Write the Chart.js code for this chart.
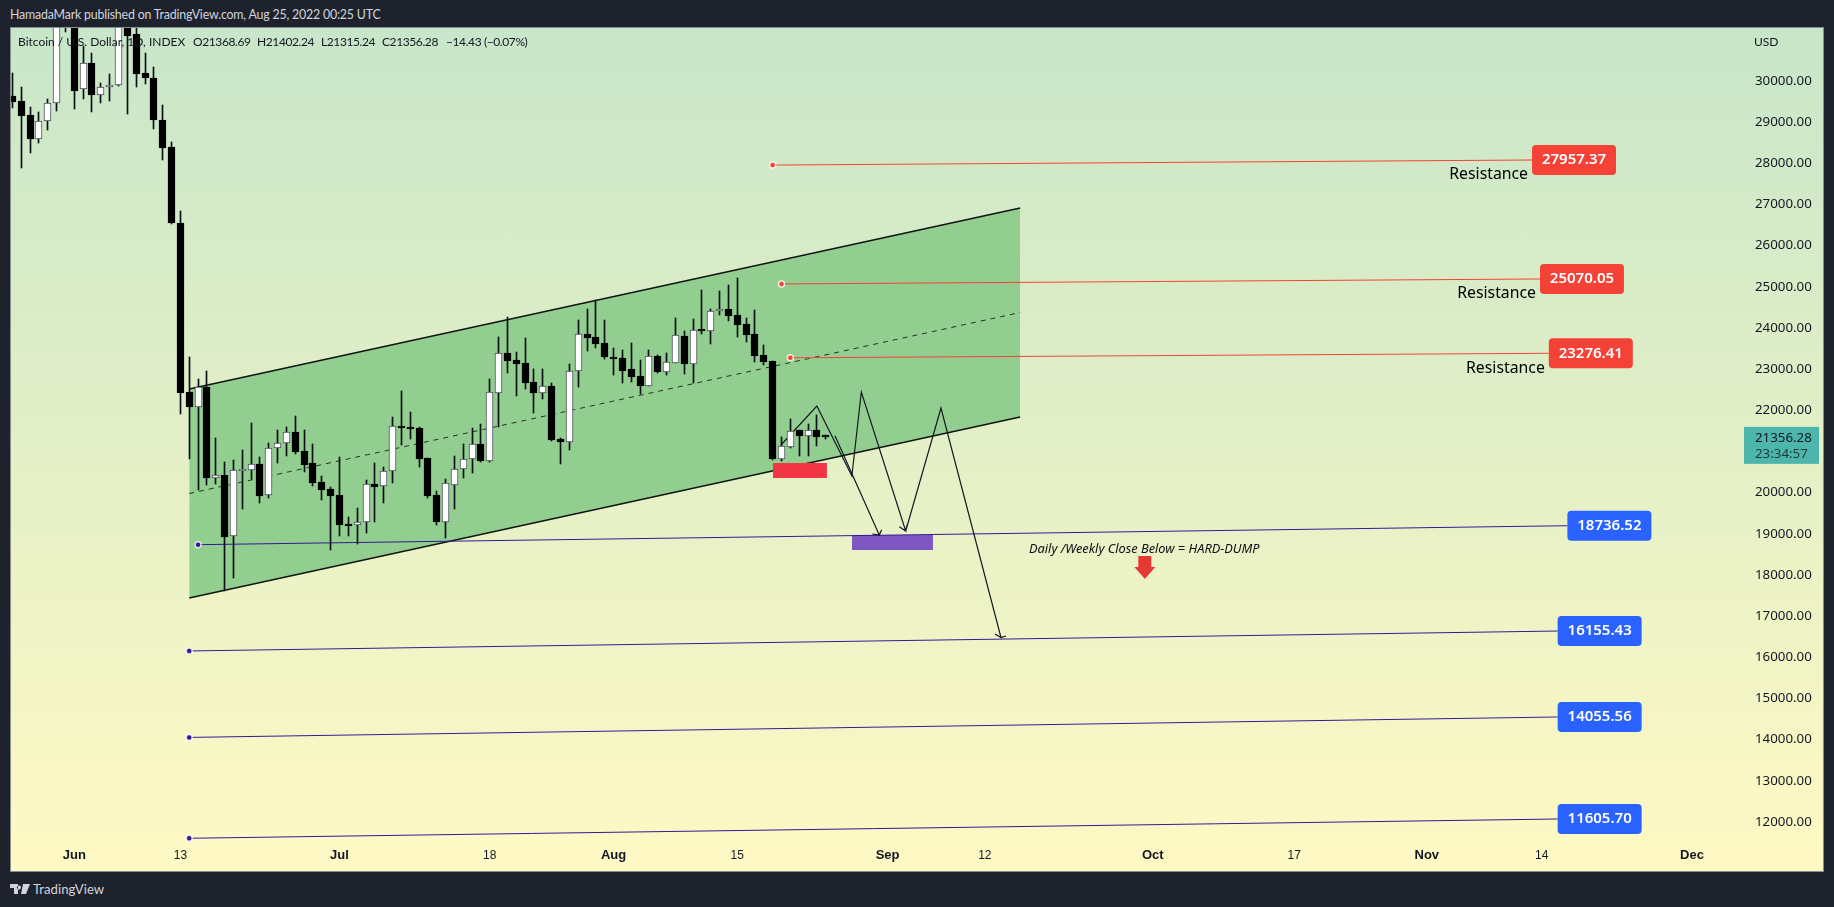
<!DOCTYPE html>
<html>
<head>
<meta charset="utf-8">
<title>BTCUSD</title>
<script src="https://cdn.jsdelivr.net/npm/chart.js@4"></script>
<style>
html, body { margin:0; padding:0; width:1834px; height:907px; overflow:hidden; background:#1e222d; font-family:Lato,sans-serif; }
#frame { position:absolute; left:10px; top:27px; width:1812px; height:843px; border:1px solid #8a8d8c; background:linear-gradient(to bottom,#c8e6c9,#fff9c4); }
#tvChart { position:absolute; left:0; top:0; }
.t { position:absolute; white-space:pre; line-height:16px; }
.head { color:#d1d4dc; font-size:12.4px; letter-spacing:-0.2px; }
.legend { color:#131722; font-size:12px; }
.num { letter-spacing:-0.4px; }
</style>
</head>
<body>
<div class="t head" style="left:10px;top:7px">HamadaMark published on TradingView.com, Aug 25, 2022 00:25 UTC</div>
<div id="frame"><canvas id="tvChart" width="1812" height="843"></canvas></div>
<div class="t legend" style="left:18px;top:34px">Bitcoin / U.S. Dollar, 1D, INDEX</div>
<div class="t legend num" style="left:193px;top:34px">O21368.69</div>
<div class="t legend num" style="left:257px;top:34px">H21402.24</div>
<div class="t legend num" style="left:321px;top:34px">L21315.24</div>
<div class="t legend num" style="left:382px;top:34px">C21356.28</div>
<div class="t legend num" style="left:446px;top:34px">−14.43 (−0.07%)</div>
<div class="t legend" style="left:1754px;top:34px">USD</div>
<svg style="position:absolute;left:10px;top:884px" width="20" height="10" viewBox="0 0 20 10"><path fill="#d1d4dc" d="M0 0h8v10H4V4H0zM13 0h7l-4 10h-5zM9 1.5a2 2 0 1 0 .01 0z"/></svg>
<div class="t" style="left:33px;top:881px;color:#d1d4dc;font-size:13.2px">TradingView</div>

<script>
// days are counted from Jun 1 2022
var firstDay = -7;
var opens = [29636,29514,29174,28584,29021,29458,31726,31792,29798,30437,29667,29847,29896,31370,31130,30194,30073,29053,28397,26551,22446,22089,22567,20364,20430,18941,20527,20544,20697,19951,21078,21200,21474,21013,20721,20260,20082,19944,19240,19208,19281,20204,20155,20520,21620,21571,21571,20843,19944,19295,20194,20568,20811,21183,20777,22429,23386,23223,23150,22689,22429,22592,21304,21239,22949,23855,23782,23636,23296,23272,23004,22834,22599,23320,22939,23157,23806,23133,23952,23935,24406,24462,24316,24098,23855,23345,23199,20826,21117,21515,21384,21523,21368.69];
var highs = [30202,29847,29361,29247,29563,32220,32400,31960,30857,30680,29944,30170,31750,31550,31320,30673,30340,29417,28518,26842,23303,22762,22956,21321,20738,20794,21037,21685,20860,21200,21523,21588,21863,21523,21183,20405,20138,20860,19402,19628,20301,20721,20617,21839,22470,21960,21596,20843,20041,20325,20884,21183,21564,21661,22762,23782,24268,23417,23757,23004,23004,22664,21328,23126,24195,24462,24673,24195,23515,23466,23636,23223,23466,23345,23393,24243,23927,24219,24923,24462,24899,25045,25215,24243,24438,23587,23199,21353,21790,21523,21669,21887,21402.24];
var lows = [29337,27894,28258,28501,28810,29279,31190,29327,29570,29254,29473,29521,29880,29206,29862,29934,28841,28088,26527,21919,20826,20065,20187,20211,17619,17935,19611,20333,19757,19878,20729,20899,20947,20510,20170,19830,18615,18955,18955,18761,19028,19295,19757,20243,21166,21311,20631,19878,19223,18907,19611,20364,20486,20753,20753,21588,22915,22356,22526,21943,22283,21256,20704,21037,22575,23442,23515,23255,22859,22664,22689,22397,22599,22907,22859,23150,22883,22664,23855,23612,24316,24170,23782,23660,23175,23102,20794,20777,21086,20891,20891,21141,21315.24];
var closes = [29497,29157,28584,29021,29458,31726,31792,29764,30430,29667,29847,29903,31370,31100,30177,30080,29060,28380,26558,22429,22089,22560,20364,20422,18931,20544,20544,20690,19927,21078,21200,21467,20996,20673,20243,20073,19927,19223,19198,19281,20204,20146,20520,21613,21571,21554,20826,19927,19295,20228,20568,20811,21175,20770,22438,23386,23199,23126,22664,22422,22584,21280,21239,22949,23847,23757,23612,23296,23247,22956,22810,22592,23313,22932,23167,23823,23126,23944,23927,24406,24455,24292,24073,23830,23320,23175,20818,21134,21498,21377,21515,21353,21356.28];

// parallel channel
var channelDays = [13, 107];
var channelUpper = [22519, 26915];
var channelMid = [19980, 24377];
var channelLower = [17442, 21839];

// levels: start day, level, end day, end price
var resistanceLevels = [27957.37, 25070.05, 23276.41];
var resistanceStart = [79, 80, 81];
var resistanceEndDay = [164.9, 165.8, 166.8];
var resistanceEndPrice = [28081, 25191, 23386];
var supportLevels = [18736.52, 16155.43, 14055.56, 11605.70];
var supportStart = [14, 13, 13, 13];
var supportEndDay = [168.9, 167.8, 167.8, 167.8];
var supportEndPrice = [19198, 16640, 14552, 12074];

// zones
var redZoneDays = [79.04, 85.14];
var redZonePrices = [20357, 20721];
var purpleZoneDays = [87.97, 97.13];
var purpleZonePrices = [18608, 18972];

// projected path with arrow heads
var pathDays = [79.94, 84, 87.96, 89.03, 94.05, 93.33, 94.05, 94.2, 94.05, 98.04, 104.83, 104.15, 104.83, 105.4];
var pathPrices = [21158, 22106, 20405, 22446, 19070, 19174, 19070, 19215, 19070, 22057, 16482, 16568, 16482, 16519];
var path2Days = [86.05, 91.06, 90.27, 91.06, 91.33];
var path2Prices = [21384, 18972, 18997, 18972, 19101];

var noteDay = 108;
var notePrice = 18632;
var arrowDay = 121.1;
var arrowPrices = [18462, 17903];

var xTickDays = [0, 12, 30, 47, 61, 75, 92, 103, 122, 138, 153, 166, 183];
var xTickLabels = ["Jun", "13", "Jul", "18", "Aug", "15", "Sep", "12", "Oct", "17", "Nov", "14", "Dec"];
var yTickValues = [12000,13000,14000,15000,16000,17000,18000,19000,20000,21000,22000,23000,24000,25000,26000,27000,28000,29000,30000];
var lastClose = 21356.28;
var countdown = "23:34:57";

var FONT = '"Noto Sans",sans-serif';

function pts(xs, ys) {
   return xs.map(function(x, i){ return {x:x, y:ys[i]}; });
}
function plainLine(data, color, width, order, extra) {
   return Object.assign({type:'line', data:data, borderColor:color, borderWidth:width, pointRadius:0, tension:0, fill:false, order:order}, extra || {});
}
function zone(days, prices, color, order) {
   return [
      plainLine(pts(days, [prices[1], prices[1]]), color, 0, order, {fill:'+1', backgroundColor:color}),
      plainLine(pts(days, [prices[0], prices[0]]), color, 0, order)
   ];
}
function ray(x0, y0, x1, y1, color) {
   return plainLine(pts([x0, x1], [y0, y1]), color, 1, 5, {
      pointRadius:[3, 0], pointBackgroundColor:color, pointBorderColor:'rgba(255,255,255,0.8)', pointBorderWidth:1.5
   });
}

var candles = opens.map(function(o, i){ return {x:firstDay + i, o:o, h:highs[i], l:lows[i], c:closes[i]}; });

var datasets = [];
datasets.push({type:'bar', data:candles.map(function(c){ return {x:c.x, y:[c.o, c.c]}; }), grouped:false, barThickness:7, minBarLength:2,
   backgroundColor:candles.map(function(c){ return c.c >= c.o ? '#ffffff' : '#000000'; }),
   borderColor:candles.map(function(c){ return c.c >= c.o ? '#4a4e5a' : '#000000'; }),
   borderWidth:1, borderSkipped:false, order:1});
datasets.push({type:'bar', data:candles.map(function(c){ return {x:c.x, y:[c.l, c.h]}; }), grouped:false, barThickness:1,
   backgroundColor:'#0b0f18', borderWidth:0, order:2});
datasets.push(plainLine(pts(channelDays, channelUpper), '#101510', 1.6, 10, {fill:'+1', backgroundColor:'rgb(146,206,143)'}));
datasets.push(plainLine(pts(channelDays, channelLower), '#101510', 1.6, 9));
datasets.push(plainLine(pts(channelDays, channelMid), 'rgba(0,0,0,0.75)', 1, 8, {borderDash:[5, 5]}));
zone(redZoneDays, redZonePrices, 'rgb(242,54,69)', 6).forEach(function(d){ datasets.push(d); });
zone(purpleZoneDays, purpleZonePrices, '#7e57c2', 6).forEach(function(d){ datasets.push(d); });
resistanceLevels.forEach(function(v, i){ datasets.push(ray(resistanceStart[i], v, resistanceEndDay[i], resistanceEndPrice[i], '#f44336')); });
supportLevels.forEach(function(v, i){ datasets.push(ray(supportStart[i], v, supportEndDay[i], supportEndPrice[i], '#311b92')); });
datasets.push(plainLine(pts(pathDays, pathPrices), '#131722', 1.2, 4));
datasets.push(plainLine(pts(path2Days, path2Prices), '#131722', 1.2, 4));

function tag(ctx, x, y, text, color) {
   ctx.fillStyle = color;
   ctx.beginPath();
   ctx.roundRect(x, y - 15, 84, 30, 4);
   ctx.fill();
   ctx.fillStyle = '#ffffff';
   ctx.font = '600 15px ' + FONT;
   ctx.textAlign = 'center';
   ctx.textBaseline = 'middle';
   ctx.fillText(text, x + 42, y);
}
function noPadding(s) {
   s.paddingTop = 0;
   s.paddingBottom = 0;
   s.paddingLeft = 0;
   s.paddingRight = 0;
}

var notes = {
   id:'notes',
   // candles sit on whole pixels like the original
   afterDatasetsUpdate:function(chart) {
      [0, 1].forEach(function(n){
         chart.getDatasetMeta(n).data.forEach(function(el){
            el.x = Math.round(el.x - 0.5) + 0.5;
            el.y = Math.round(el.y);
            el.base = Math.round(el.base);
            if (el.y === el.base) el.base = el.y + 1;
         });
      });
   },
   afterDraw:function(chart) {
      var ctx = chart.ctx, xs = chart.scales.x, ys = chart.scales.y;
      ctx.save();
      resistanceLevels.forEach(function(v, i){
         var x = xs.getPixelForValue(resistanceEndDay[i]), y = ys.getPixelForValue(resistanceEndPrice[i]);
         tag(ctx, x, y, v.toFixed(2), '#f44336');
         ctx.fillStyle = '#000000';
         ctx.font = '15.8px ' + FONT;
         ctx.textAlign = 'right';
         ctx.fillText('Resistance', x - 4, y + 15);
      });
      supportLevels.forEach(function(v, i){
         tag(ctx, xs.getPixelForValue(supportEndDay[i]), ys.getPixelForValue(supportEndPrice[i]), v.toFixed(2), '#2962ff');
      });
      // note and its arrow
      ctx.fillStyle = '#0b0e14';
      ctx.font = 'italic 12.8px ' + FONT;
      ctx.textAlign = 'left';
      ctx.textBaseline = 'middle';
      ctx.fillText('Daily /Weekly Close Below = HARD-DUMP', xs.getPixelForValue(noteDay), ys.getPixelForValue(notePrice));
      var ax = xs.getPixelForValue(arrowDay), at = ys.getPixelForValue(arrowPrices[0]), ab = ys.getPixelForValue(arrowPrices[1]);
      ctx.fillStyle = '#e53935';
      ctx.beginPath();
      ctx.moveTo(ax - 6.5, at);
      ctx.lineTo(ax + 6.5, at);
      ctx.lineTo(ax + 6.5, at + 11);
      ctx.lineTo(ax + 10.5, at + 11);
      ctx.lineTo(ax, ab);
      ctx.lineTo(ax - 10.5, at + 11);
      ctx.lineTo(ax - 6.5, at + 11);
      ctx.closePath();
      ctx.fill();
      // last price tag
      var ly = ys.getPixelForValue(lastClose);
      ctx.fillStyle = '#4db6ac';
      ctx.fillRect(xs.right, ly - 10, 75, 37);
      ctx.fillStyle = '#131722';
      ctx.font = '13.3px ' + FONT;
      ctx.fillText(lastClose.toFixed(2), xs.right + 11, ly + 1);
      ctx.fillStyle = '#1f3a3a';
      ctx.fillText(countdown, xs.right + 11, ly + 17);
      ctx.restore();
   }
};

window.onload = function(){
   new Chart(document.getElementById('tvChart').getContext('2d'), {
      type:'bar',
      data:{datasets:datasets},
      plugins:[notes],
      options:{
         responsive:false,
         animation:false,
         devicePixelRatio:1,
         layout:{padding:0, autoPadding:false},
         plugins:{legend:{display:false}, tooltip:{enabled:false}},
         scales:{
            x:{
               type:'linear', min:-7.16, max:188.88, offset:false,
               grid:{display:false, drawTicks:false}, border:{display:false},
               afterFit:function(s){ s.height = 28; noPadding(s); },
               afterBuildTicks:function(s){ s.ticks = xTickDays.map(function(d){ return {value:d}; }); },
               ticks:{
                  autoSkip:false, maxRotation:0, padding:5, color:'#131722',
                  callback:function(v){ return xTickLabels[xTickDays.indexOf(v)]; },
                  font:function(c){
                     var isMonth = c.tick && isNaN(parseInt(xTickLabels[xTickDays.indexOf(c.tick.value)]));
                     return isMonth ? {family:'"Liberation Sans"', size:13, weight:'bold'} : {family:'"Liberation Sans"', size:12};
                  }
               }
            },
            y:{
               type:'linear', position:'right', min:11491, max:31287,
               grid:{display:false, drawTicks:false}, border:{display:false},
               afterFit:function(s){ s.width = 79; noPadding(s); },
               afterBuildTicks:function(s){ s.ticks = yTickValues.map(function(v){ return {value:v}; }); },
               ticks:{
                  autoSkip:false, padding:11, color:'#131722',
                  font:{family:FONT, size:13.3},
                  callback:function(v){ return v.toFixed(2); }
               }
            }
         }
      }
   });
};
</script>
</body>
</html>
